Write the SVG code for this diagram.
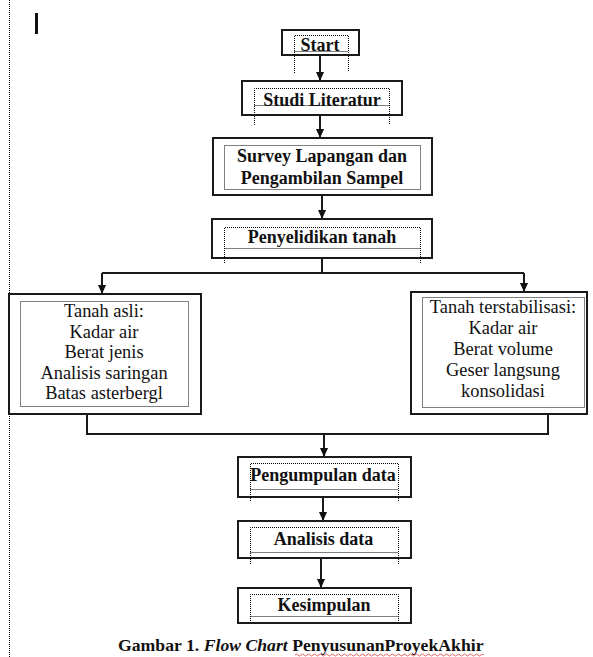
<svg xmlns="http://www.w3.org/2000/svg" width="593" height="657" viewBox="0 0 593 657">
<style>
.box{fill:#fff;stroke:#1a1a1a;stroke-width:2}
.dot{fill:none;stroke:#000;stroke-width:1;stroke-dasharray:1 1}
.con{fill:none;stroke:#1a1a1a;stroke-width:2}
.b{font-family:"Liberation Serif","Times New Roman",serif;font-weight:bold;font-size:18px;fill:#111;text-anchor:middle}
.r{font-family:"Liberation Serif","Times New Roman",serif;font-size:18.4px;fill:#111;text-anchor:middle}
.cap{font-family:"Liberation Serif","Times New Roman",serif;font-weight:bold;font-size:17.7px;fill:#111}
</style>
<defs>
<marker id="ah" viewBox="0 0 10 10" refX="10" refY="5" markerWidth="9" markerHeight="9" markerUnits="userSpaceOnUse" orient="auto">
<path d="M0,0.5 L10,5 L0,9.5 Z" fill="#111"/>
</marker>
</defs>
<rect width="593" height="657" fill="#fff"/>
<line x1="9.5" y1="0" x2="9.5" y2="657" class="dot"/>
<rect x="35" y="13" width="3" height="21" fill="#111"/>

<g id="connectors">
<path class="con" d="M320,55 V81" marker-end="url(#ah)"/>
<path class="con" d="M320,115 V138" marker-end="url(#ah)"/>
<path class="con" d="M322,195 V219" marker-end="url(#ah)"/>
<path class="con" d="M322,258 V273 M102,273 H524"/>
<path class="con" d="M102,273 V294" marker-end="url(#ah)"/>
<path class="con" d="M524,273 V292" marker-end="url(#ah)"/>
<path class="con" d="M87,414 V434 H548 V414"/>
<path class="con" d="M324,434 V457" marker-end="url(#ah)"/>
<path class="con" d="M323,497 V521" marker-end="url(#ah)"/>
<path class="con" d="M321,558 V588" marker-end="url(#ah)"/>
</g>

<g id="start">
<rect class="box" x="282" y="30" width="77" height="25"/>
<path class="dot" d="M294.5,73 V35.5 H348.5 V72 M294.5,51.5 H348.5"/>
<text class="b" x="320" y="51">Start</text>
</g>

<g id="studi">
<rect class="box" x="242" y="81" width="160" height="34"/>
<path class="dot" d="M254.5,125 V88.5 H389.5 V124 M254.5,105.5 H389.5"/>
<text class="b" x="322" y="106">Studi Literatur</text>
</g>

<g id="survey">
<rect class="box" x="213" y="138" width="219" height="57"/>
<rect class="dot" x="224.5" y="145.5" width="196" height="44"/>
<text class="b" x="322" y="162">Survey Lapangan dan</text>
<text class="b" x="322" y="184">Pengambilan Sampel</text>
</g>

<g id="penyelidikan">
<rect class="box" x="212" y="219" width="220" height="39"/>
<path class="dot" d="M224.5,263 V227.5 H420.5 V263 M224.5,248.5 H420.5"/>
<text class="b" x="322" y="243">Penyelidikan tanah</text>
</g>

<g id="tanah-asli">
<rect class="box" x="9" y="294" width="192" height="120"/>
<rect class="dot" x="20.5" y="301.5" width="168" height="105"/>
<text class="r" x="104" y="317">Tanah asli:</text>
<text class="r" x="104" y="338">Kadar air</text>
<text class="r" x="104" y="358">Berat jenis</text>
<text class="r" x="104" y="379">Analisis saringan</text>
<text class="r" x="104" y="399">Batas asterbergl</text>
</g>

<g id="tanah-terstabilisasi">
<rect class="box" x="411" y="292" width="176" height="122"/>
<rect class="dot" x="422.5" y="297.5" width="162" height="110"/>
<text class="r" x="503" y="313">Tanah terstabilisasi:</text>
<text class="r" x="503" y="334">Kadar air</text>
<text class="r" x="503" y="355">Berat volume</text>
<text class="r" x="503" y="376">Geser langsung</text>
<text class="r" x="503" y="397">konsolidasi</text>
</g>

<g id="pengumpulan">
<rect class="box" x="238" y="457" width="173" height="40"/>
<path class="dot" d="M250.5,501 V463.5 H398.5 V501 M250.5,489.5 H398.5"/>
<text class="b" x="323" y="481">Pengumpulan data</text>
</g>

<g id="analisis">
<rect class="box" x="238" y="521" width="173" height="37"/>
<path class="dot" d="M250.5,564 V527.5 H398.5 V564 M250.5,552.5 H398.5"/>
<text class="b" x="323.5" y="545">Analisis data</text>
</g>

<g id="kesimpulan">
<rect class="box" x="238" y="588" width="173" height="35"/>
<path class="dot" d="M250.5,623 V594.5 H398.5 V623 M250.5,616.5 H398.5"/>
<text class="b" x="324" y="611">Kesimpulan</text>
</g>

<g id="caption">
<text class="cap" x="118" y="651">Gambar 1. <tspan font-style="italic">Flow Chart</tspan> PenyusunanProyekAkhir</text>
<path d="M295,655 q1.5,-2 3,0 t3,0 t3,0 t3,0 t3,0 t3,0 t3,0 t3,0 t3,0 t3,0 t3,0 t3,0 t3,0 t3,0 t3,0 t3,0 t3,0 t3,0 t3,0 t3,0 t3,0 t3,0 t3,0 t3,0 t3,0 t3,0 t3,0 t3,0 t3,0 t3,0 t3,0 t3,0 t3,0 t3,0 t3,0 t3,0 t3,0 t3,0 t3,0 t3,0 t3,0 t3,0 t3,0 t3,0 t3,0 t3,0 t3,0 t3,0 t3,0 t3,0 t3,0 t3,0 t3,0 t3,0 t3,0 t3,0 t3,0 t3,0 t3,0 t3,0 t3,0 t3,0 t3,0" fill="none" stroke="#e03c3c" stroke-width="0.8"/>
</g>
</svg>
